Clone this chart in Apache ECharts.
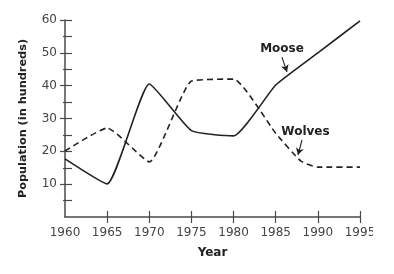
<!DOCTYPE html>
<html><head><meta charset="utf-8">
<script src="https://cdn.jsdelivr.net/npm/echarts@6/dist/echarts.min.js"></script>
<style>html,body{margin:0;padding:0;background:#fff;}#c{width:373px;height:274px;}</style>
</head><body><div id="c"></div>
<script>
// Data
const mooseYears = [1960, 1965, 1970, 1975, 1980, 1985, 1990, 1995];
const moose      = [17.7, 10.1, 40.5, 26.3, 24.7, 40.2, 50.0, 59.7];
const wolvesYears = [1960, 1965, 1970, 1975, 1980, 1985, 1988, 1990, 1995];
const wolves      = [20.1, 27.1, 16.8, 41.4, 42.0, 25.5, 17.0, 15.2, 15.2];
const xTicks = [1965, 1970, 1975, 1980, 1985, 1990, 1995];
const xLabels = [1960, 1965, 1970, 1975, 1980, 1985, 1990, 1995];
const yMajor = [10, 20, 30, 40, 50, 60];
const yMinor = [5, 15, 25, 35, 45, 55];
// annotation anchors in data units
const mooseLabel = [1985.75, 51.2];
const mooseArrow = [[1985.74, 48.7], [1986.34, 44.2]];
const wolvesLabel = [1988.53, 26.0];
const wolvesArrow = [[1988.12, 23.45], [1987.64, 18.9]];

const FONT = 'DejaVu Sans';
const AX = '#4a4a4a';
const chart = echarts.init(document.getElementById('c'), null, {renderer: 'canvas'});
function yAx(extra) {
  return Object.assign({
    type: 'value', min: 0, max: 60, position: 'left',
    splitLine: {show: false},
    axisLine: {show: false, onZero: false},
    axisLabel: {show: false},
    axisTick: {show: false}
  }, extra);
}
const xBase = {type: 'value', min: 1960, max: 1995, interval: 5, splitLine: {show: false}, position: 'bottom'};
chart.setOption({
  animation: false,
  backgroundColor: '#fff',
  grid: {left: 65, right: 13, top: 20, bottom: 57, containLabel: false, outerBoundsMode: 'none'},
  xAxis: [
    Object.assign({}, xBase, {
      name: 'Year', nameLocation: 'middle', nameGap: 30,
      nameTextStyle: {fontFamily: FONT, fontWeight: 'bold', fontSize: 12, color: '#222'},
      axisLine: {show: true, onZero: false, lineStyle: {color: AX, width: 1.5}},
      axisTick: {show: false},
      axisLabel: {show: true, margin: 10, customValues: xLabels, formatter: v => String(v), fontFamily: FONT, fontSize: 12, color: '#444'}
    }),
    Object.assign({}, xBase, {
      offset: -6,
      axisLine: {show: false, onZero: false},
      axisTick: {show: true, inside: false, length: 12, customValues: xTicks, lineStyle: {color: AX, width: 1.2}},
      axisLabel: {show: false}
    })
  ],
  yAxis: [
    yAx({
      name: 'Population (in hundreds)', nameLocation: 'middle', nameGap: 36,
      nameTextStyle: {fontFamily: FONT, fontWeight: 'bold', fontSize: 11.3, color: '#222'},
      axisLine: {show: true, onZero: false, lineStyle: {color: AX, width: 1.5}},
      axisLabel: {show: true, margin: 8, customValues: yMajor, fontFamily: FONT, fontSize: 12, color: '#444'}
    }),
    yAx({offset: -7, axisTick: {show: true, inside: false, length: 12, customValues: yMajor, lineStyle: {color: AX, width: 1.2}}}),
    yAx({offset: -7, axisTick: {show: true, inside: false, length: 9, customValues: yMinor, lineStyle: {color: AX, width: 1.2}}})
  ],
  series: [
    {
      name: 'Moose', type: 'line', xAxisIndex: 0, yAxisIndex: 0,
      data: mooseYears.map((y, i) => [y, moose[i]]),
      smooth: 0.15, showSymbol: false, symbol: 'none',
      lineStyle: {color: '#222', width: 1.6, type: 'solid'},
      markLine: {
        silent: true, symbol: ['none', 'arrow'], symbolSize: [6, 7],
        lineStyle: {color: '#222', width: 1.1, type: 'solid'}, label: {show: false},
        data: [[{coord: mooseArrow[0]}, {coord: mooseArrow[1]}]]
      },
      markPoint: {
        silent: true, symbol: 'circle', symbolSize: 0,
        label: {show: true, position: 'inside', formatter: 'Moose', fontFamily: FONT, fontWeight: 'bold', fontSize: 12, color: '#222'},
        data: [{coord: mooseLabel}]
      }
    },
    {
      name: 'Wolves', type: 'line', xAxisIndex: 0, yAxisIndex: 0,
      data: wolvesYears.map((y, i) => [y, wolves[i]]),
      smooth: 0.15, showSymbol: false, symbol: 'none',
      lineStyle: {color: '#222', width: 1.6, type: [6, 4]},
      markLine: {
        silent: true, symbol: ['none', 'arrow'], symbolSize: [6, 7],
        lineStyle: {color: '#222', width: 1.1, type: 'solid'}, label: {show: false},
        data: [[{coord: wolvesArrow[0]}, {coord: wolvesArrow[1]}]]
      },
      markPoint: {
        silent: true, symbol: 'circle', symbolSize: 0,
        label: {show: true, position: 'inside', formatter: 'Wolves', fontFamily: FONT, fontWeight: 'bold', fontSize: 12, color: '#222'},
        data: [{coord: wolvesLabel}]
      }
    }
  ]
});
</script></body></html>
